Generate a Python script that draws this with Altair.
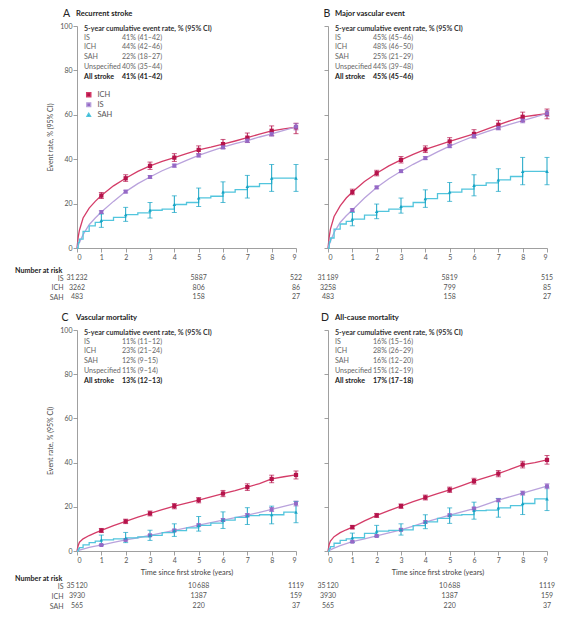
import altair as alt
import pandas as pd

FONT = "Lato, Liberation Sans, sans-serif"

GROUPS = ["ICH", "IS", "SAH"]
LINE_COLORS = ["#d43c68", "#b9a2dc", "#52c5dd"]
MARK_COLORS = ["#b5134b", "#9569c6", "#17a4c5"]
MARK_SHAPES = ["square", "square", "triangle-up"]
MARK_SIZES = [18, 13, 18]

# time grid (years) on which the curves were read
T = [0, 0.05, 0.1, 0.25, 0.5, 0.75, 1, 1.5, 2, 2.5, 3, 3.5, 4, 4.5, 5, 5.5, 6, 6.5, 7, 7.5, 8, 8.5, 9]
YEARS = [1, 2, 3, 4, 5, 6, 7, 8, 9]

# ---- A: recurrent stroke
A_ICH = [0, 5, 8, 13.5, 18, 21, 23.6, 28, 31.4, 34.5, 37, 39, 40.7, 42.5, 44.2, 45.4, 46.8, 48.2, 49.7, 51.3, 52.8, 53.7, 54.4]
A_IS = [0, 1.3, 2.5, 6, 10.5, 13.5, 16.2, 21, 25.4, 29, 32, 34.8, 37.1, 39.5, 41.7, 43.6, 45.4, 47, 48.4, 50, 51.4, 53, 54.6]
A_SAH = [0, 2.5, 4, 7.5, 10, 11.5, 12.4, 13.8, 15, 15.8, 17, 17.5, 19.6, 20.5, 22.6, 23.3, 25.2, 26.3, 27.7, 29, 31.5, 31.5, 31.5]
A_ICH_MID = [23.6, 31.4, 37, 40.7, 44.2, 46.8, 49.7, 52.8, 54.4]
A_ICH_LO = [22.3, 30.0, 35.4, 39.0, 42.4, 44.8, 47.6, 50.6, 51.5]
A_ICH_HI = [25.0, 33.0, 38.7, 42.5, 46.0, 48.9, 51.8, 55.0, 56.2]
A_IS_MID = [16.2, 25.4, 32, 37.1, 41.7, 45.4, 48.4, 51.4, 54.6]
A_IS_LO = [15.6, 24.8, 31.4, 36.4, 41.0, 44.6, 47.5, 50.4, 53.2]
A_IS_HI = [16.8, 26.0, 32.6, 37.8, 42.4, 46.2, 49.3, 52.4, 56.0]
A_SAH_MID = [12.4, 15, 17, 19.6, 22.6, 25.2, 27.7, 31.5, 31.5]
A_SAH_LO = [9.3, 12, 13.5, 16, 18.7, 20.5, 22.5, 25.5, 25.5]
A_SAH_HI = [15.3, 18.3, 20.5, 23.5, 27, 29.8, 32.7, 37.6, 37.6]

# ---- B: major vascular event
B_ICH = [0, 5, 8.5, 14.2, 19, 22.5, 25.2, 30, 33.7, 37, 39.7, 42.2, 44.4, 46.2, 48, 49.7, 51.4, 53.4, 55.5, 57.4, 59.1, 59.8, 60.5]
B_IS = [0, 1.5, 3, 7, 11.5, 14.5, 17.1, 22.5, 27.3, 31.2, 34.6, 37.7, 40.5, 43.3, 45.9, 48.2, 50.4, 52.3, 54.1, 55.8, 57.4, 59, 60.6]
B_SAH = [0, 2.8, 4.5, 8.5, 10.8, 12, 13, 14.8, 16.5, 17.5, 18.7, 20.5, 22.2, 24.5, 25.2, 26.5, 28.2, 29.3, 30.7, 32.2, 34.5, 34.5, 34.5]
B_ICH_MID = [25.2, 33.7, 39.7, 44.4, 48, 51.4, 55.5, 59.1, 60.5]
B_ICH_LO = [24, 32.5, 38.3, 43, 46.4, 49.6, 53.6, 57, 58.2]
B_ICH_HI = [26.5, 35, 41.2, 46, 49.7, 53.3, 57.5, 61.2, 62.6]
B_IS_MID = [17.1, 27.3, 34.6, 40.5, 45.9, 50.4, 54.1, 57.4, 60.6]
B_IS_LO = [16.5, 26.7, 34, 39.8, 45.2, 49.6, 53.2, 56.4, 59.3]
B_IS_HI = [17.7, 27.9, 35.2, 41.2, 46.6, 51.2, 55, 58.4, 61.9]
B_SAH_MID = [13, 16.5, 18.7, 22.2, 25.2, 28.2, 30.7, 34.5, 34.5]
B_SAH_LO = [10, 13.2, 15.7, 18.3, 21, 23.5, 25.5, 28.5, 28.5]
B_SAH_HI = [16, 19.8, 22.5, 26.2, 29.5, 33, 35.7, 40.8, 40.8]

# ---- C: vascular mortality
C_ICH = [0, 2.5, 4, 5.5, 7, 8.2, 9.3, 11.5, 13.4, 15.3, 17, 18.7, 20.3, 21.7, 23, 24.5, 26, 27.3, 28.9, 30.5, 32.6, 33.6, 34.4]
C_IS = [0, 0.2, 0.35, 0.8, 1.6, 2.2, 2.7, 3.9, 5, 6, 7.1, 8.2, 9.3, 10.5, 11.7, 12.8, 14, 15.1, 16.2, 17.5, 18.8, 20.2, 21.5]
C_SAH = [0, 1, 1.5, 2.8, 3.8, 4.5, 5, 5.5, 5.9, 6.4, 7.1, 8.3, 9.2, 10.5, 11.6, 12.6, 14, 15.2, 16, 16.4, 16.4, 17.6, 17.6]
C_ICH_MID = [9.3, 13.4, 17, 20.3, 23, 26, 28.9, 32.6, 34.4]
C_ICH_LO = [8.4, 12.4, 15.9, 19.1, 21.8, 24.6, 27.4, 30.9, 32.6]
C_ICH_HI = [10.2, 14.4, 18.1, 21.5, 24.2, 27.4, 30.4, 34.3, 36.2]
C_IS_MID = [2.7, 5, 7.1, 9.3, 11.7, 14, 16.2, 18.8, 21.5]
C_IS_LO = [2.4, 4.6, 6.7, 8.8, 11.2, 13.4, 15.5, 17.9, 20.4]
C_IS_HI = [3.0, 5.4, 7.5, 9.8, 12.2, 14.6, 16.9, 19.7, 22.6]
C_SAH_MID = [5, 5.9, 7.1, 9.2, 11.6, 14, 16, 16.4, 17.6]
C_SAH_LO = [2.8, 3.8, 4.8, 6.6, 9, 10.2, 12, 12.3, 12.8]
C_SAH_HI = [7.2, 8.4, 9.4, 12.3, 15.6, 17.7, 19.6, 20.3, 22.4]

# ---- D: all-cause mortality
D_ICH = [0, 3, 4.5, 6.5, 8.3, 9.6, 10.8, 13.6, 16.1, 18.3, 20.3, 22.3, 24.2, 26, 27.7, 29.6, 31.6, 33.3, 35, 37, 39.1, 40, 41.2]
D_IS = [0, 0.3, 0.5, 1.3, 2.4, 3.3, 4.2, 5.5, 6.8, 8.2, 9.6, 11.3, 13.1, 14.7, 16.2, 17.7, 19.2, 21.1, 23, 24.6, 26.2, 27.8, 29.3]
D_SAH = [0, 1.2, 2, 3.5, 4.8, 5.5, 6, 8, 9, 9.3, 9.6, 11.5, 13.2, 14.8, 16.2, 16.5, 18.3, 18.5, 19.5, 20.5, 21.5, 23.6, 23.6]
D_ICH_MID = [10.8, 16.1, 20.3, 24.2, 27.7, 31.6, 35, 39.1, 41.2]
D_ICH_LO = [10, 15.2, 19.3, 23.1, 26.5, 30.3, 33.6, 37.6, 39.3]
D_ICH_HI = [11.6, 17, 21.3, 25.3, 28.9, 32.9, 36.4, 40.6, 43.2]
D_IS_MID = [4.2, 6.8, 9.6, 13.1, 16.2, 19.2, 23, 26.2, 29.3]
D_IS_LO = [3.9, 6.4, 9.2, 12.6, 15.7, 18.6, 22.3, 25.3, 28.2]
D_IS_HI = [4.5, 7.2, 10, 13.6, 16.7, 19.8, 23.7, 27.1, 30.4]
D_SAH_MID = [6, 9, 9.6, 13.2, 16.2, 18.3, 19.5, 21.5, 23.6]
D_SAH_LO = [3.9, 6.5, 7.2, 10.1, 12.5, 14.4, 15.3, 16.5, 18.3]
D_SAH_HI = [8.1, 11.6, 12.3, 16.4, 19.5, 22.1, 23.8, 26, 28.9]

# ---- inset tables
INSET_HEADER = "5-year cumulative event rate, % (95% CI)"
INSET_LABELS = ["IS", "ICH", "SAH", "Unspecified", "All stroke"]
A_INSET = ["41% (41–42)", "44% (42–46)", "22% (18–27)", "40% (35–44)", "41% (41–42)"]
B_INSET = ["45% (45–46)", "48% (46–50)", "25% (21–29)", "44% (39–48)", "45% (45–46)"]
C_INSET = ["11% (11–12)", "23% (21–24)", "12% (9–15)", "11% (9–14)", "13% (12–13)"]
D_INSET = ["16% (15–16)", "28% (26–29)", "16% (12–20)", "15% (12–19)", "17% (17–18)"]

# ---- number at risk
RISK_ROWS = ["IS", "ICH", "SAH"]
RISK_T = [0, 5, 9]
A_RISK = [["31\u2009232", "5887", "522"], ["3262", "806", "86"], ["483", "158", "27"]]
B_RISK = [["31\u2009189", "5819", "515"], ["3258", "799", "85"], ["483", "158", "27"]]
C_RISK = [["35\u2009120", "10\u2009688", "1119"], ["3930", "1387", "159"], ["565", "220", "37"]]
D_RISK = [["35\u2009120", "10\u2009688", "1119"], ["3930", "1387", "159"], ["565", "220", "37"]]

X_TICKS = list(range(10))
Y_TICKS = [0, 20, 40, 60, 80, 100]

P_SQ = "M-1.4,0H1.4M-0.24,-0.24H0.24V0.24H-0.24Z"
P_TRI = "M-1.4,0H1.4M0,-0.3L0.3,0.22H-0.3Z"

ONE = pd.DataFrame({"k": [0]})  # single row for annotation text


def curve_df(ich, is_, sah):
    rows = []
    for g, vals in zip(GROUPS, [ich, is_, sah]):
        for t, v in zip(T, vals):
            rows.append({"grp": g, "t": t, "v": v})
    return pd.DataFrame(rows)


def marker_df(mids, los, his):
    rows = []
    for g, m, lo, hi in zip(GROUPS, mids, los, his):
        for t, a, b, c in zip(YEARS, m, lo, hi):
            rows.append({"grp": g, "t": t, "v": a, "lo": b, "hi": c})
    return pd.DataFrame(rows)


def risk_df(table):
    rows = []
    for g, vals in zip(RISK_ROWS, table):
        for t, n in zip(RISK_T, vals):
            rows.append({"grp": g, "t": t, "n": n})
    return pd.DataFrame(rows)


def color_expr(colors):
    return (f"datum.value === '{GROUPS[0]}' ? '{colors[0]}' : "
            f"datum.value === '{GROUPS[1]}' ? '{colors[1]}' : '{colors[2]}'")


def main_panel(letter, title, cdf, mdf, inset, left, bottom, legend, height, letter_dx, title_dx):
    xaxis = alt.Axis(values=X_TICKS, format="d", labelPadding=1.5,
                     title="Time since first stroke (years)" if bottom else None,
                     titlePadding=5, titleFontWeight="normal", titleFontSize=7.3, titleColor="#444")
    yaxis = alt.Axis(values=Y_TICKS, labels=left, labelPadding=1,
                     title="Event rate, % (95% CI)" if left else None,
                     titlePadding=6, titleFontWeight="normal", titleFontSize=7, titleColor="#444")
    X = alt.X("t:Q", scale=alt.Scale(domain=[0, 9], nice=False), axis=xaxis)
    Y = alt.Y("v:Q", scale=alt.Scale(domain=[0, 100], nice=False), axis=yaxis)

    if legend:
        leg = alt.Legend(
            orient="none", legendX=8, legendY=65, title=None, symbolSize=100,
            labelFont=FONT, labelFontSize=7.5, labelColor="#555", rowPadding=0,
            labelOffset=5, padding=0, direction="vertical",
            symbolType=alt.ExprRef(expr=f"datum.value === 'SAH' ? '{P_TRI}' : '{P_SQ}'"),
            symbolStrokeColor=alt.ExprRef(expr=color_expr(LINE_COLORS)),
            symbolFillColor=alt.ExprRef(expr=color_expr(MARK_COLORS)),
            symbolStrokeWidth=1.3,
        )
    else:
        leg = None
    stroke = alt.Stroke("grp:N", scale=alt.Scale(domain=GROUPS, range=LINE_COLORS), legend=leg)
    color = alt.Color("grp:N", scale=alt.Scale(domain=GROUPS, range=MARK_COLORS), legend=None)

    base_c = alt.Chart(cdf)
    lines_smooth = base_c.transform_filter("datum.grp !== 'SAH'").mark_line(strokeWidth=1.3).encode(
        x=X, y=Y, stroke=stroke, detail="grp:N")
    lines_step = base_c.transform_filter("datum.grp === 'SAH'").mark_line(
        strokeWidth=1.3, interpolate="step-after").encode(x=X, y=Y, stroke=stroke)

    base_m = alt.Chart(mdf)
    ylo = alt.Y("lo:Q", scale=alt.Scale(domain=[0, 100], nice=False), axis=yaxis)
    yhi = alt.Y("hi:Q", scale=alt.Scale(domain=[0, 100], nice=False), axis=yaxis)
    rules = base_m.mark_rule(strokeWidth=1).encode(x=X, y=ylo, y2="hi:Q", color=color)
    cap_lo = base_m.mark_tick(orient="horizontal", size=5, thickness=1).encode(x=X, y=ylo, color=color)
    cap_hi = base_m.mark_tick(orient="horizontal", size=5, thickness=1).encode(x=X, y=yhi, color=color)
    points = base_m.mark_point(filled=True, opacity=1).encode(
        x=X, y=Y, color=color,
        shape=alt.Shape("grp:N", scale=alt.Scale(domain=GROUPS, range=MARK_SHAPES), legend=None),
        size=alt.Size("grp:N", scale=alt.Scale(domain=GROUPS, range=MARK_SIZES), legend=None))

    layers = [lines_smooth, lines_step, rules, cap_lo, cap_hi, points]

    layers.append(alt.Chart(ONE).mark_text(
        text=letter, font=FONT, fontSize=10.5, color="#222", align="center", baseline="middle"
    ).encode(x=alt.value(letter_dx), y=alt.value(-12.5)))
    layers.append(alt.Chart(ONE).mark_text(
        text=title, font=FONT, fontSize=7.6, fontWeight="bold", color="#222", align="left", baseline="middle"
    ).encode(x=alt.value(title_dx), y=alt.value(-12.5)))

    layers.append(alt.Chart(ONE).mark_text(
        text=INSET_HEADER, font=FONT, fontSize=7.1, fontWeight="bold", color="#333",
        align="left", baseline="middle").encode(x=alt.value(7), y=alt.value(2.8)))
    for i, (lab, val) in enumerate(zip(INSET_LABELS, inset)):
        bold = i == len(INSET_LABELS) - 1
        yy = 11.7 + 9.75 * i
        layers.append(alt.Chart(ONE).mark_text(
            text=lab, font=FONT, fontSize=7.1, fontWeight="bold" if bold else "normal",
            color="#222" if bold else "#666", align="left", baseline="middle"
        ).encode(x=alt.value(7), y=alt.value(yy)))
        layers.append(alt.Chart(ONE).mark_text(
            text=val, font=FONT, fontSize=7.1, fontWeight="bold" if bold else "normal",
            color="#222" if bold else "#666", align="left", baseline="middle"
        ).encode(x=alt.value(45), y=alt.value(yy)))

    return alt.layer(*layers).properties(width=219, height=height)


def risk_panel(table, left, yrange, title_dy):
    yaxis = alt.Axis(domain=False, ticks=False, labelPadding=14, labelFontSize=7,
                     labelColor="#555", title=None) if left else None
    ch = alt.Chart(risk_df(table)).mark_text(
        font=FONT, fontSize=7, color="#555", align="center", baseline="middle"
    ).encode(
        x=alt.X("t:Q", scale=alt.Scale(domain=[0, 9], nice=False), axis=None),
        y=alt.Y("grp:N", sort=RISK_ROWS, scale=alt.Scale(range=yrange, padding=0), axis=yaxis),
        text="n:N",
    )
    if left:
        return ch.properties(width=219, height=30, title=alt.TitleParams(
            "Number at risk", anchor="start", frame="group", dx=-62, dy=title_dy, offset=0, fontSize=7.2,
            fontWeight="bold", font=FONT, color="#222"))
    return ch.properties(width=219, height=30)


mainA = main_panel("A", "Recurrent stroke", curve_df(A_ICH, A_IS, A_SAH),
                   marker_df([A_ICH_MID, A_IS_MID, A_SAH_MID], [A_ICH_LO, A_IS_LO, A_SAH_LO], [A_ICH_HI, A_IS_HI, A_SAH_HI]),
                   A_INSET, True, False, True, 222, -10.5, -1)
mainB = main_panel("B", "Major vascular event", curve_df(B_ICH, B_IS, B_SAH),
                   marker_df([B_ICH_MID, B_IS_MID, B_SAH_MID], [B_ICH_LO, B_IS_LO, B_SAH_LO], [B_ICH_HI, B_IS_HI, B_SAH_HI]),
                   B_INSET, False, False, False, 222, -1, 7)
mainC = main_panel("C", "Vascular mortality", curve_df(C_ICH, C_IS, C_SAH),
                   marker_df([C_ICH_MID, C_IS_MID, C_SAH_MID], [C_ICH_LO, C_IS_LO, C_SAH_LO], [C_ICH_HI, C_IS_HI, C_SAH_HI]),
                   C_INSET, True, True, False, 221, -12, -1)
mainD = main_panel("D", "All-cause mortality", curve_df(D_ICH, D_IS, D_SAH),
                   marker_df([D_ICH_MID, D_IS_MID, D_SAH_MID], [D_ICH_LO, D_IS_LO, D_SAH_LO], [D_ICH_HI, D_IS_HI, D_SAH_HI]),
                   D_INSET, False, True, False, 221, -3, 7)

riskA = risk_panel(A_RISK, True, [4, 23], 0)
riskB = risk_panel(B_RISK, False, [4, 23], 0)
riskC = risk_panel(C_RISK, True, [9, 29], 5)
riskD = risk_panel(D_RISK, False, [9, 29], 5)

chart = alt.concat(
    mainA, mainB, riskA, riskB, mainC, mainD, riskC, riskD,
    columns=2, spacing={"row": 26, "column": 32}, bounds="flush", align="each",
).properties(
    padding={"left": 7, "top": 0, "right": 3, "bottom": 1},
    background="white",
).configure_view(stroke=None).configure_axis(
    labelFont=FONT, titleFont=FONT, labelFontSize=7, labelColor="#555",
    domainColor="#888", tickColor="#888", tickSize=4, domainWidth=0.8, tickWidth=0.8, grid=False,
).configure_text(font=FONT)

chart.save("out.html", embed_options={"renderer": "svg", "actions": False})
